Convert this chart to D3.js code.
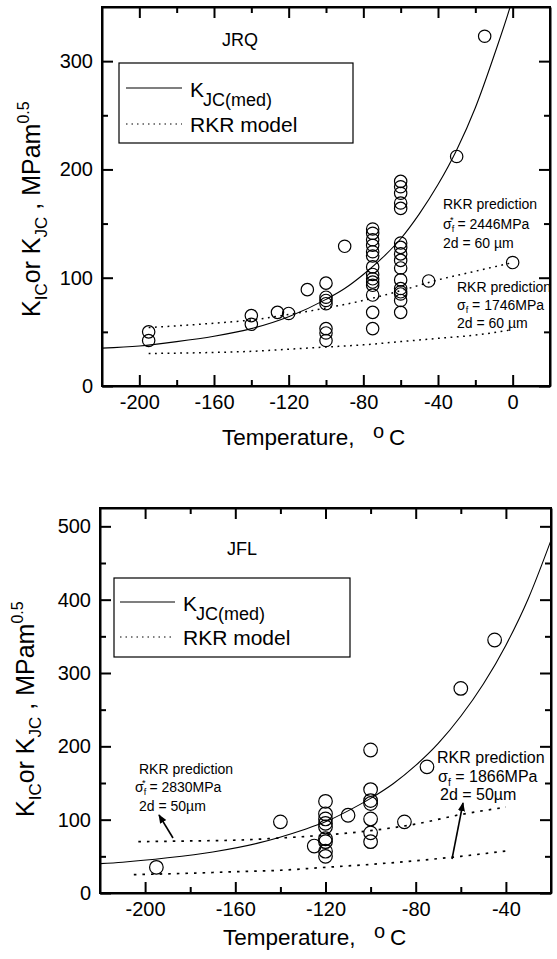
<!DOCTYPE html>
<html><head><meta charset="utf-8">
<script src="https://cdn.jsdelivr.net/npm/d3@7"></script>
<style>
body{margin:0;background:#fff;}
svg{display:block;font-family:"Liberation Sans",Arial,Helvetica,sans-serif;}
</style>
</head><body>
<svg id="chart" width="557" height="959"></svg>
<script>
// ---------------- DATA ----------------
// JRQ panel
const jrqPoints = [
  [-195,50],[-195,42],
  [-140,65],[-140,57],
  [-126,68],[-120,67],
  [-110,89],
  [-100,95],[-100,82],[-100,79],[-100,76],[-100,53],[-100,49],[-100,42],
  [-90,129],
  [-75,145],[-75,141],[-75,135],[-75,130],[-75,124],[-75,120],[-75,110],[-75,103],[-75,99],[-75,96],[-75,93],[-75,84],[-75,68],[-75,53],
  [-60,189],[-60,184],[-60,178],[-60,169],[-60,164],[-60,132],[-60,128],[-60,122],[-60,116],[-60,109],[-60,98],[-60,90],[-60,87],[-60,85],[-60,79],[-60,68],
  [-45,97],[-30,212],[-15,323],[0,114]
];
const jrqMedian = [[-220,35],[-200,37],[-180,41],[-160,46],[-140,53],[-120,64],[-100,80],[-90,90],[-80,103],[-70,118],[-60,136],[-50,159],[-40,186],[-30,218],[-20,257],[-10,305],[0,358],[5,390]];
const jrqRkrUpper = [[-195,54],[-160,58],[-140,61],[-120,66],[-100,72],[-80,79],[-60,88],[-40,98],[-20,106],[0,114]];
const jrqRkrLower = [[-195,30],[-160,31],[-140,32],[-120,34],[-100,36],[-80,38],[-60,41],[-40,44],[-20,47],[0,52]];
const jrqXTicks = [-200,-160,-120,-80,-40,0];
const jrqXMinor = [-180,-140,-100,-60,-20];
const jrqYTicks = [0,100,200,300];
const jrqYMinor = [50,150,250];

// JFL panel
const jflPoints = [
  [-195,35],[-140,97],[-125,64],
  [-120,125],[-120,108],[-120,101],[-120,95],[-120,90],[-120,74],[-120,70],[-120,57],[-120,50],
  [-110,106],
  [-100,195],[-100,141],[-100,126],[-100,122],[-100,101],[-100,82],[-100,70],
  [-85,97],[-75,172],[-60,279],[-45,345]
];
const jflMedian = [[-220,40],[-210,42],[-190,48],[-170,56],[-150,68],[-130,86],[-120,97],[-110,112],[-100,129],[-90,149],[-80,174],[-70,204],[-60,241],[-50,285],[-40,338],[-30,402],[-20,481]];
const jflRkrUpper = [[-203,70],[-180,71],[-160,72],[-140,75],[-120,79],[-100,85],[-80,94],[-60,107],[-40,117]];
const jflRkrLower = [[-205,25],[-180,27],[-160,29],[-140,31],[-120,35],[-100,39],[-80,44],[-60,50],[-38,58]];
const jflXTicks = [-200,-160,-120,-80,-40];
const jflXMinor = [-180,-140,-100,-60];
const jflYTicks = [0,100,200,300,400,500];
const jflYMinor = [50,150,250,350,450];

const xTitle = "Temperature,";
const legendLabels = ["RKR model"];

// ---------------- DRAWING ----------------
const svg = d3.select("#chart");
const defs = svg.append("defs");
defs.append("marker").attr("id","arrow").attr("viewBox","0 0 10 10")
  .attr("refX",9).attr("refY",5).attr("markerWidth",9).attr("markerHeight",9)
  .attr("markerUnits","userSpaceOnUse").attr("orient","auto")
  .append("path").attr("d","M0,1 L10,5 L0,9 Z").attr("fill","#000");

function panel(o){
  const g = svg.append("g");
  const x = d3.scaleLinear().domain(o.xDomain).range([o.left,o.right]);
  const y = d3.scaleLinear().domain(o.yDomain).range([o.bottom,o.top]);
  const cid = "clip"+o.id;
  defs.append("clipPath").attr("id",cid).append("rect")
    .attr("x",o.left).attr("y",o.top).attr("width",o.right-o.left).attr("height",o.bottom-o.top);

  const line = d3.line().x(d=>x(d[0])).y(d=>y(d[1])).curve(d3.curveMonotoneX);
  const plot = g.append("g").attr("clip-path",`url(#${cid})`);
  plot.append("path").datum(o.median).attr("d",line).attr("fill","none").attr("stroke","#000").attr("stroke-width",1.1);
  [o.rkrUpper,o.rkrLower].forEach(s=>{
    plot.append("path").datum(s).attr("d",line).attr("fill","none").attr("stroke","#000")
      .attr("stroke-width",o.dotW).attr("stroke-dasharray",o.dash);
  });
  plot.selectAll("circle.pt").data(o.points).join("circle").attr("class","pt")
    .attr("cx",d=>x(d[0])).attr("cy",d=>y(d[1])).attr("r",o.r)
    .attr("fill","none").attr("stroke","#000").attr("stroke-width",1.2);

  // axes
  const fmt = d3.format("d");
  const ax = (gen, pos, ticks, minor, labels) => {
    const a = g.append("g").attr("transform",pos)
      .call(gen.tickValues(ticks).tickSize(-11).tickSizeOuter(0).tickPadding(9)
        .tickFormat(labels ? (d=>fmt(d).replace("\u2212","-")) : ""));
    a.selectAll("text").attr("font-size",20).attr("fill","#000").attr("font-family","Liberation Sans, Arial, sans-serif");
    a.selectAll("line").attr("stroke-width",2);
    a.select(".domain").attr("stroke-width",2);
    const m = g.append("g").attr("transform",pos)
      .call(gen.tickValues(minor).tickSize(-6).tickFormat(""));
    m.select(".domain").remove();
    m.selectAll("line").attr("stroke-width",2);
  };
  ax(d3.axisBottom(x), `translate(0,${o.bottom})`, o.xTicks, o.xMinor, true);
  ax(d3.axisTop(x), `translate(0,${o.top})`, o.xTicks, o.xMinor, false);
  ax(d3.axisLeft(y), `translate(${o.left},0)`, o.yTicks, o.yMinor, true);
  ax(d3.axisRight(y), `translate(${o.right},0)`, o.yTicks, o.yMinor, false);
  g.append("rect").attr("x",o.left).attr("y",o.top).attr("width",o.right-o.left).attr("height",o.bottom-o.top)
    .attr("fill","none").attr("stroke","#000").attr("stroke-width",2);

  // panel label
  g.append("text").attr("x",o.labelX).attr("y",o.labelY).attr("font-size",18).text(o.label);

  // legend
  const L = o.legend;
  g.append("rect").attr("x",L.x0).attr("y",L.y0).attr("width",L.x1-L.x0).attr("height",L.y1-L.y0)
    .attr("fill","#fff").attr("stroke","#000").attr("stroke-width",1.2);
  g.append("line").attr("x1",L.lx0).attr("x2",L.lx1).attr("y1",L.ly1).attr("y2",L.ly1).attr("stroke","#000").attr("stroke-width",1.1);
  g.append("line").attr("x1",L.lx0).attr("x2",L.lx1).attr("y1",L.ly2).attr("y2",L.ly2).attr("stroke","#000")
    .attr("stroke-width",1.2).attr("stroke-dasharray","1.5,4");
  const t1 = g.append("text").attr("x",L.tx).attr("y",L.ty1).attr("font-size",21);
  t1.append("tspan").text("K");
  t1.append("tspan").attr("font-size",18).attr("dy",9).attr("dx",-1).text("JC(med)");
  g.append("text").attr("x",L.tx).attr("y",L.ty2).attr("font-size",21).text(legendLabels[0]);

  // axis titles
  const xt = g.append("text").attr("x",o.xtX).attr("y",o.xtY).attr("font-size",22.5).text(xTitle);
  xt.append("tspan").attr("x",o.xtX+151).attr("dy",-7).attr("font-size",20).text("o");
  xt.append("tspan").attr("x",o.xtX+167).attr("dy",7).text("C");

  const yt = g.append("text").attr("transform",`translate(${o.ytX},${o.ytY}) rotate(-90)`).attr("font-size",25);
  yt.append("tspan").text("K");
  yt.append("tspan").attr("font-size",17).attr("dy",7).text("IC");
  yt.append("tspan").attr("dy",-7).text("or K");
  yt.append("tspan").attr("font-size",17).attr("dy",7).text("JC");
  yt.append("tspan").attr("dy",-7).text(" ,  MPam");
  yt.append("tspan").attr("font-size",16).attr("dy",-11).text("0.5");

  // annotations
  o.notes.forEach(n=>{
    const fs = n.fs;
    g.append("text").attr("x",n.x).attr("y",n.y1).attr("font-size",fs).text("RKR prediction");
    const s = g.append("text").attr("x",n.xs).attr("y",n.y2).attr("font-size",fs);
    s.append("tspan").text("\u03c3");
    s.append("tspan").attr("font-size",fs*0.65).attr("dy",fs*0.22).text("f");
    if(n.star){ s.append("tspan").attr("font-size",fs*0.65).attr("dx",-fs*0.3).attr("dy",-fs*0.62).text("*");
      s.append("tspan").attr("dy",fs*0.4).text(" = "+n.sigma); }
    else s.append("tspan").attr("dy",-fs*0.22).text(" = "+n.sigma);
    g.append("text").attr("x",n.x3).attr("y",n.y3).attr("font-size",fs).text(n.d);
    if(n.arrow){
      g.append("line").attr("x1",n.arrow[0]).attr("y1",n.arrow[1]).attr("x2",n.arrow[2]).attr("y2",n.arrow[3])
        .attr("stroke","#000").attr("stroke-width",1.6).attr("marker-end","url(#arrow)");
    }
  });
}

panel({
  id:"top", left:102, right:550, top:7, bottom:386,
  xDomain:[-220,20], yDomain:[0,350],
  points:jrqPoints, median:jrqMedian, rkrUpper:jrqRkrUpper, rkrLower:jrqRkrLower,
  xTicks:jrqXTicks, xMinor:jrqXMinor, yTicks:jrqYTicks, yMinor:jrqYMinor,
  r:6.2, dash:"1.8,4.5", dotW:1.5,
  label:"JRQ", labelX:222, labelY:46,
  legend:{x0:119,y0:63,x1:353,y1:143,lx0:126,lx1:182,ly1:88,ly2:124,tx:190,ty1:97,ty2:132},
  xtX:222, xtY:445, ytX:40, ytY:317,
  notes:[
    {fs:14,x:443,y1:209,xs:443,y2:229,x3:443,y3:248,sigma:"2446MPa",d:"2d = 60 \u00b5m",star:true},
    {fs:14,x:457,y1:292,xs:457,y2:310,x3:457,y3:328,sigma:"1746MPa",d:"2d = 60 \u00b5m",star:false}
  ]
});

panel({
  id:"bot", left:100, right:551, top:508, bottom:893,
  xDomain:[-220,-20], yDomain:[0,525],
  points:jflPoints, median:jflMedian, rkrUpper:jflRkrUpper, rkrLower:jflRkrLower,
  xTicks:jflXTicks, xMinor:jflXMinor, yTicks:jflYTicks, yMinor:jflYMinor,
  r:6.8, dash:"2.6,6", dotW:1.7,
  label:"JFL", labelX:227, labelY:555,
  legend:{x0:114,y0:578,x1:350,y1:657,lx0:120,lx1:175,ly1:602,ly2:637,tx:183,ty1:611,ty2:645},
  xtX:223, xtY:945, ytX:34, ytY:817,
  notes:[
    {fs:14,x:139,y1:774,xs:135,y2:792,x3:139,y3:811,sigma:"2830MPa",d:"2d = 50\u00b5m",star:true,arrow:[173,838,159,815]},
    {fs:16,x:437,y1:763,xs:438,y2:782,x3:440,y3:800,sigma:"1866MPa",d:"2d = 50\u00b5m",star:false,arrow:[452,859,463,803]}
  ]
});
</script>
</body></html>
